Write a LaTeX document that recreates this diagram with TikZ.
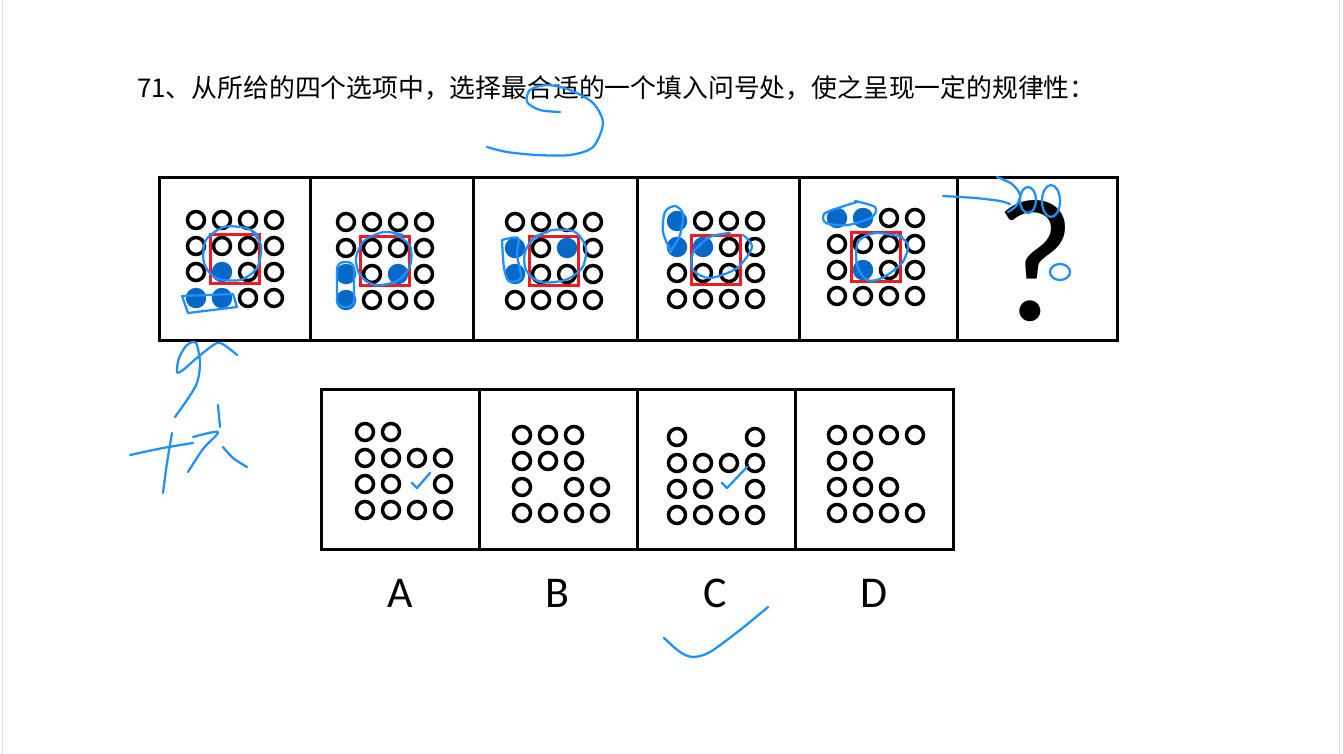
\documentclass[tikz,border=0pt]{standalone}
\usepackage{fontspec}
\usepackage{tikz}
\usepackage{xcolor}
\newfontfamily\cjk{Noto Sans CJK SC}
\newfontfamily\calib{Carlito}
\definecolor{dotblue}{RGB}{8,104,200}
\definecolor{penblue}{RGB}{30,144,255}
\definecolor{boxred}{RGB}{235,28,36}
\tikzset{
  frame/.style={line width=0.06cm,draw=black},
  ring/.style={circle,draw=black,line width=0.07cm,minimum size=0.34cm,inner sep=0pt},
  bluedot/.style={circle,fill=dotblue,minimum size=0.41cm,inner sep=0pt},
  redsq/.style={rectangle,draw=boxred,line width=0.06cm,minimum size=0.98cm,inner sep=0pt},
  pen/.style={draw=penblue,line width=0.045cm,line cap=round,line join=round},
  optlabel/.style={font=\calib\fontsize{25}{30}\selectfont}
}

\begin{document}
\begin{tikzpicture}[x=0.02cm,y=-0.02cm]
  \useasboundingbox (0,0) rectangle (1343,754);
  \fill[white] (0,0) rectangle (1343,754);
  \draw[gray!25] (2,0)--(2,754);
  \draw[gray!25] (1339,0)--(1339,754);

  \node[anchor=west,font=\cjk\fontsize{14.7}{17}\selectfont] (title) at (131,88)
    {71、从所给的四个选项中，选择最合适的一个填入问号处，使之呈现一定的规律性：};

  % question row
  \draw[frame] (159,177) rectangle (1117,340);
  \draw[frame] (310,177)--(310,340);
  \draw[frame] (473,177)--(473,340);
  \draw[frame] (637,177)--(637,340);
  \draw[frame] (799,177)--(799,340);
  \draw[frame] (957,177)--(957,340);

  \begin{scope}[shift={(170,194)}]
    \foreach \c/\r in {1/1,2/1,3/1,4/1,1/2,2/2,3/2,4/2,1/3,3/3,4/3,3/4,4/4}
      \node[ring] (p1-\c-\r) at ({26*\c},{26*\r}) {};
    \foreach \c/\r in {2/3,1/4,2/4}
      \node[bluedot] (p1-\c-\r) at ({26*\c},{26*\r}) {};
    \node[redsq] (sq1) at (65,65) {};
  \end{scope}

  \begin{scope}[shift={(320,196)}]
    \foreach \c/\r in {1/1,2/1,3/1,4/1,1/2,2/2,3/2,4/2,2/3,4/3,2/4,3/4,4/4}
      \node[ring] (p2-\c-\r) at ({26*\c},{26*\r}) {};
    \foreach \c/\r in {1/3,3/3,1/4}
      \node[bluedot] (p2-\c-\r) at ({26*\c},{26*\r}) {};
    \node[redsq] (sq2) at (65,65) {};
  \end{scope}

  \begin{scope}[shift={(489,196)}]
    \foreach \c/\r in {1/1,2/1,3/1,4/1,2/2,4/2,2/3,3/3,4/3,1/4,2/4,3/4,4/4}
      \node[ring] (p3-\c-\r) at ({26*\c},{26*\r}) {};
    \foreach \c/\r in {1/2,3/2,1/3}
      \node[bluedot] (p3-\c-\r) at ({26*\c},{26*\r}) {};
    \node[redsq] (sq3) at (65,65) {};
  \end{scope}

  \begin{scope}[shift={(651,195)}]
    \foreach \c/\r in {2/1,3/1,4/1,3/2,4/2,1/3,2/3,3/3,4/3,1/4,2/4,3/4,4/4}
      \node[ring] (p4-\c-\r) at ({26*\c},{26*\r}) {};
    \foreach \c/\r in {1/1,1/2,2/2}
      \node[bluedot] (p4-\c-\r) at ({26*\c},{26*\r}) {};
    \node[redsq] (sq4) at (65,65) {};
  \end{scope}

  \begin{scope}[shift={(811,192)}]
    \foreach \c/\r in {3/1,4/1,1/2,2/2,3/2,4/2,1/3,3/3,4/3,1/4,2/4,3/4,4/4}
      \node[ring] (p5-\c-\r) at ({26*\c},{26*\r}) {};
    \foreach \c/\r in {1/1,2/1,2/3}
      \node[bluedot] (p5-\c-\r) at ({26*\c},{26*\r}) {};
    \node[redsq] (sq5) at (65,65) {};
  \end{scope}

  \node[font=\calib\fontsize{100}{100}\selectfont,inner sep=0pt] (qmark) at (1035,261) {?};

  % options row
  \draw[frame] (321,389) rectangle (953,549);
  \draw[frame] (479,389)--(479,549);
  \draw[frame] (637,389)--(637,549);
  \draw[frame] (795,389)--(795,549);

  \begin{scope}[shift={(339,406)}]
    \foreach \c/\r in {1/1,2/1,1/2,2/2,3/2,4/2,1/3,2/3,4/3,1/4,2/4,3/4,4/4}
      \node[ring] (oA-\c-\r) at ({26*\c},{26*\r}) {};
  \end{scope}
  \begin{scope}[shift={(496,409)}]
    \foreach \c/\r in {1/1,2/1,3/1,1/2,2/2,3/2,1/3,3/3,4/3,1/4,2/4,3/4,4/4}
      \node[ring] (oB-\c-\r) at ({26*\c},{26*\r}) {};
  \end{scope}
  \begin{scope}[shift={(651,411)}]
    \foreach \c/\r in {1/1,4/1,1/2,2/2,3/2,4/2,1/3,2/3,4/3,1/4,2/4,3/4,4/4}
      \node[ring] (oC-\c-\r) at ({26*\c},{26*\r}) {};
  \end{scope}
  \begin{scope}[shift={(811,409)}]
    \foreach \c/\r in {1/1,2/1,3/1,4/1,1/2,2/2,1/3,2/3,3/3,1/4,2/4,3/4,4/4}
      \node[ring] (oD-\c-\r) at ({26*\c},{26*\r}) {};
  \end{scope}

  \node[optlabel] (labA) at (400,593) {A};
  \node[optlabel] (labB) at (557,593) {B};
  \node[optlabel] (labC) at (715,593) {C};
  \node[optlabel] (labD) at (874,593) {D};

  % pen marks
  \draw[pen] plot[smooth] coordinates {(560,112) (540,110) (527,102) (530,90) (547,85) (570,90) (593,103) (603,123) (593,147) (570,155) (537,155) (507,152) (487,147)};

  \draw[pen] plot[smooth] coordinates {(252,231) (261,246) (257,268) (240,280) (216,278) (204,263) (206,240) (224,227) (246,228) (258,235)};
  \draw[pen] (182,296)--(233,294)--(237,307)--(188,313)--cycle;

  \draw[pen] plot[smooth] coordinates {(395,234) (410,246) (410,266) (397,281) (375,285) (360,275) (356,258) (364,241) (384,232) (403,235)};
  \draw[pen,rounded corners=4pt] (337,262) rectangle (354,307);

  \draw[pen] plot[smooth] coordinates {(533,239) (552,230) (575,232) (586,248) (582,268) (565,280) (540,282) (526,270) (525,252) (535,237) (548,232)};
  \draw[pen] plot[smooth] coordinates {(502,240) (518,238) (517,255) (521,278) (509,281) (504,268) (502,240)};

  \draw[pen] plot[smooth] coordinates {(743,235) (752,247) (737,268) (710,278) (693,270) (693,253) (710,237) (730,233)};
  \draw[pen] plot[smooth] coordinates {(671,252) (663,232) (665,212) (675,206) (683,214) (680,235) (670,252)};

  \draw[pen] plot[smooth] coordinates {(855,201) (875,207) (872,217) (848,225) (826,223) (824,214) (838,208) (857,202)};
  \draw[pen] plot[smooth] coordinates {(898,235) (908,245) (902,263) (882,278) (867,280) (857,265) (858,242) (875,233) (902,237)};

  \draw[pen] plot[smooth] coordinates {(943,196) (975,198) (1000,201) (1010,204)};
  \draw[pen] plot[smooth] coordinates {(997,177) (1012,184) (1020,195) (1016,206) (1008,212)};
  \draw[pen] (1028,200) ellipse (8 and 13);
  \draw[pen] (1051,201) ellipse (9 and 16);
  \draw[pen] (1060,272) ellipse (10 and 8);

  \draw[pen] plot[smooth] coordinates {(175,417) (187,400) (197,383) (200,363) (196,343) (187,345) (179,358) (177,372) (183,370) (198,357) (217,343) (227,347) (237,355)};
  \draw[pen] plot[smooth] coordinates {(130,455) (163,448) (193,443)};
  \draw[pen] plot[smooth] coordinates {(172,433) (167,463) (163,493)};
  \draw[pen] (218,405)--(220,427);
  \draw[pen] plot[smooth] coordinates {(193,437) (218,432) (203,449) (188,472)};
  \draw[pen] plot[smooth] coordinates {(223,447) (233,458) (247,467)};

  \draw[pen] (412,483)--(417,488)--(430,473);
  \draw[pen] (722,483)--(727,488)--(747,467);
  \draw[pen] plot[smooth] coordinates {(664,638) (680,652) (693,657) (710,652) (740,630) (768,607)};
\end{tikzpicture}
\end{document}
